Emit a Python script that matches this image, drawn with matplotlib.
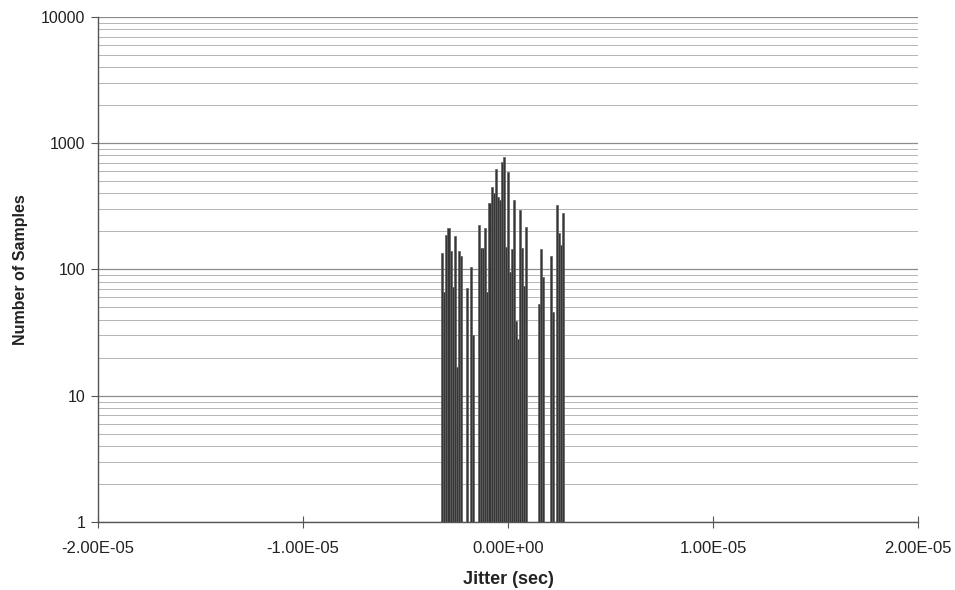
import matplotlib
matplotlib.use("Agg")
import matplotlib.pyplot as plt
from matplotlib.ticker import LogLocator, FixedLocator, NullFormatter

plt.rcParams['font.family'] = ['Liberation Sans', 'DejaVu Sans']

# Jitter bins (microseconds) and sample counts per bin
jitter_us = [-3.2, -3.1, -3.0, -2.9, -2.8, -2.7, -2.6, -2.5, -2.4, -2.3,
             -2.0, -1.8, -1.7,
             -1.4, -1.3, -1.2, -1.1, -1.0, -0.9, -0.8, -0.7, -0.6, -0.5,
             -0.4, -0.3, -0.2, -0.1, 0.0, 0.1, 0.2, 0.3, 0.4, 0.5, 0.6,
             0.7, 0.8, 0.9,
             1.5, 1.6, 1.7,
             2.1, 2.2, 2.4, 2.5, 2.6, 2.7]
samples = [135, 65, 188, 213, 138, 71, 184, 16, 140, 128,
           70, 104, 29,
           225, 148, 148, 213, 65, 337, 450, 405, 626, 375,
           355, 710, 770, 150, 590, 94, 143, 355, 38, 27, 297,
           148, 73, 217,
           52, 143, 86,
           128, 45, 325, 195, 156, 280]

x_ticks = [-2e-5, -1e-5, 0.0, 1e-5, 2e-5]
x_tick_labels = ['-2.00E-05', '-1.00E-05', '0.00E+00', '1.00E-05', '2.00E-05']
y_ticks = [1, 10, 100, 1000, 10000]
y_tick_labels = ['1', '10', '100', '1000', '10000']

fig = plt.figure(figsize=(9.55, 5.9), dpi=100)
ax = fig.add_axes([0.1026, 0.1153, 0.8586, 0.8559])

x_sec = [v * 1e-6 for v in jitter_us]
ax.bar(x_sec, samples, width=0.1e-6, bottom=1, color='#363636',
       edgecolor='#606060', linewidth=0.5, zorder=3)

ax.set_yscale('log')
ax.set_ylim(1, 10000)
ax.set_xlim(-2e-5, 2e-5)

ax.yaxis.set_major_locator(FixedLocator(y_ticks))
ax.set_yticklabels(y_tick_labels)
ax.yaxis.set_minor_locator(LogLocator(base=10, subs=range(2, 10)))
ax.yaxis.set_minor_formatter(NullFormatter())
ax.set_xticks(x_ticks)
ax.set_xticklabels(x_tick_labels)

ax.grid(True, which='major', axis='y', color='#8c8c8c', linewidth=0.9, zorder=0)
ax.grid(True, which='minor', axis='y', color='#b4b4b4', linewidth=0.7, zorder=0)

for side in ('top', 'right'):
    ax.spines[side].set_visible(False)
for side in ('left', 'bottom'):
    ax.spines[side].set_color('#555555')
    ax.spines[side].set_linewidth(1.0)

ax.tick_params(axis='y', which='major', direction='out', length=5, color='#555555',
               labelsize=11.5, labelcolor='#222222', pad=4)
ax.tick_params(axis='y', which='minor', length=0)
ax.tick_params(axis='x', which='major', direction='inout', length=8, color='#555555',
               labelsize=12, labelcolor='#222222', pad=10)

ax.set_xlabel('Jitter (sec)', fontsize=13, fontweight='bold', color='#222222', labelpad=8)
ax.set_ylabel('Number of Samples', fontsize=11.5, fontweight='bold', color='#222222')
ax.xaxis.set_label_coords(0.5, -0.098)
ax.yaxis.set_label_coords(-0.085, 0.5)

fig.savefig('out.png', dpi=100, facecolor='white')
